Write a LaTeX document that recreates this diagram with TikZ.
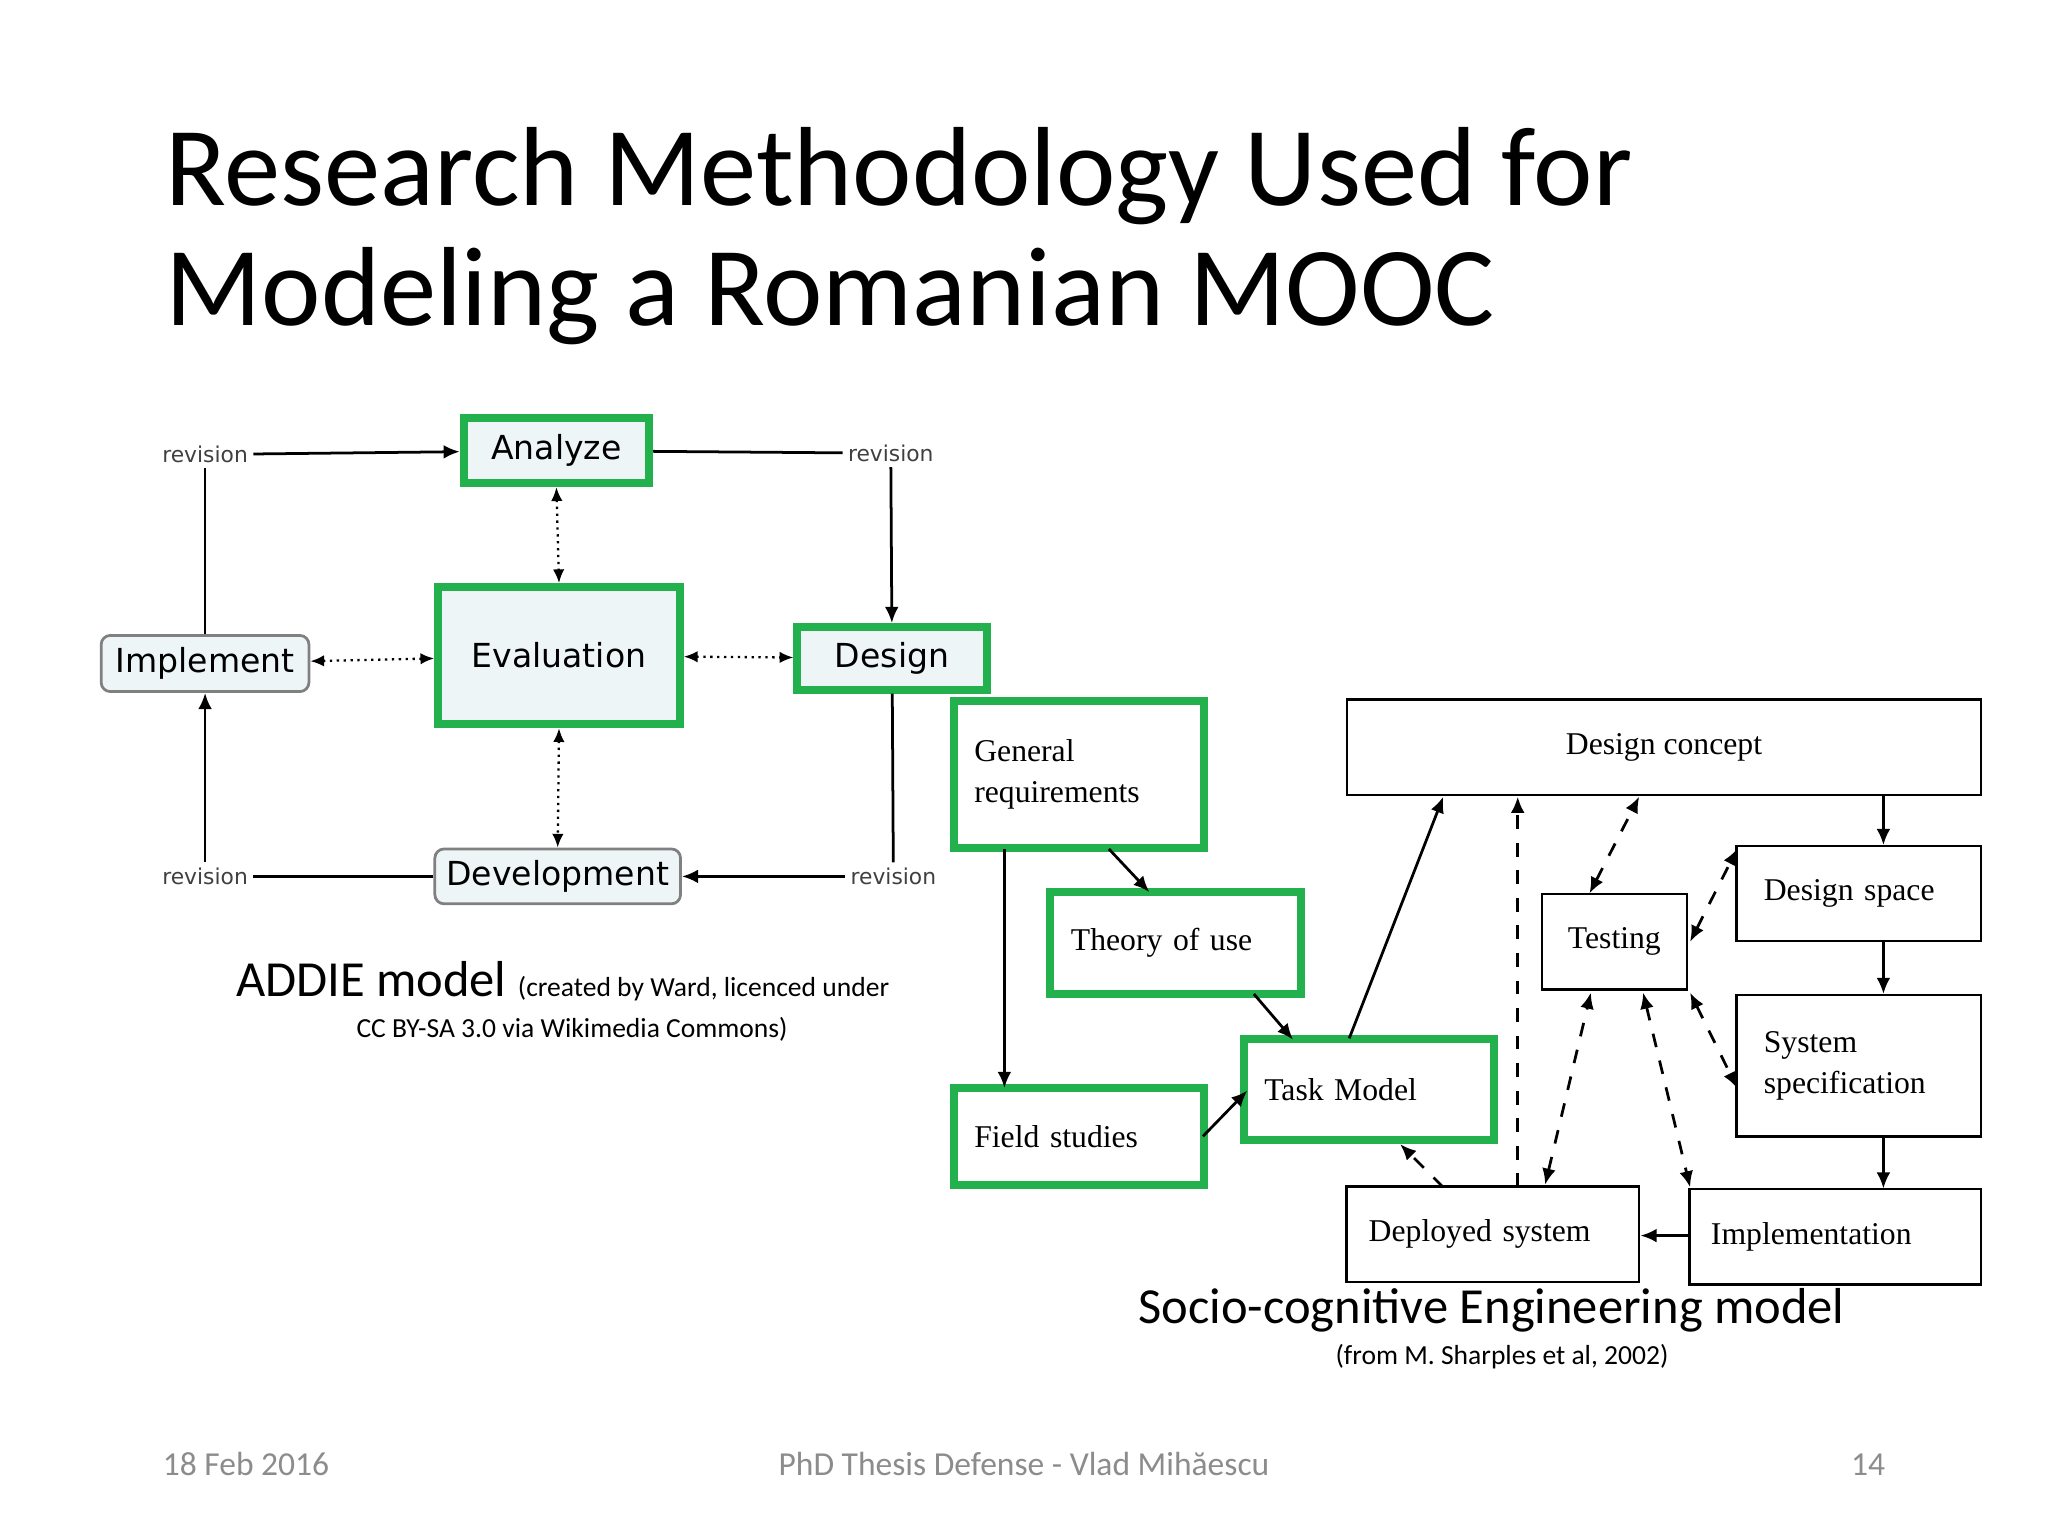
\documentclass[tikz,border=0pt]{standalone}
\usepackage{fontspec}
\setmainfont{Carlito}
\newfontfamily\serifd{Liberation Serif}
\newfontfamily\sansd{DejaVu Sans}
\usetikzlibrary{arrows.meta}
\definecolor{gr}{HTML}{22B14C}
\definecolor{addfill}{HTML}{EEF5F6}
\definecolor{foot}{HTML}{8C8C8C}
\tikzset{
 gbox/.style={draw=gr,line width=1.7pt,fill=addfill,font=\sansd\fontsize{7.2}{8}\selectfont,inner sep=0pt},
 rbox/.style={draw=gray,rounded corners=2pt,line width=0.6pt,fill=addfill,font=\sansd\fontsize{7.2}{8}\selectfont,inner sep=0pt},
 rev/.style={font=\sansd\fontsize{4.75}{5}\selectfont,text=black!75,inner sep=1pt},
 sbox/.style={draw=black,line width=0.5pt,font=\serifd\fontsize{6.9}{8.8}\selectfont,align=left,inner xsep=4.5pt,inner ysep=0pt},
 sgbox/.style={sbox,draw=gr,line width=1.7pt},
 ln/.style={line width=0.6pt},
 ar/.style={line width=0.6pt,-{Latex[length=3.5pt,width=3pt]}},
 dd/.style={line width=0.5pt,densely dotted,{Latex[length=3pt,width=2.5pt]}-{Latex[length=3pt,width=2.5pt]}},
 da/.style={line width=0.6pt,dashed,-{Latex[length=3.5pt,width=3pt]}},
 dda/.style={line width=0.6pt,dashed,{Latex[length=3.5pt,width=3pt]}-{Latex[length=3.5pt,width=3pt]}},
}
\begin{document}
\begin{tikzpicture}[x=0.01cm,y=-0.01cm]
\useasboundingbox (0,0) rectangle (1568,1176);
% title
\node[anchor=base west,inner sep=0,font=\fontsize{24.5}{25}\selectfont] (t1) at (126,157) {Research Methodology Used for};
\node[anchor=base west,inner sep=0,font=\fontsize{24.5}{25}\selectfont] (t2) at (126,249) {Modeling a Romanian MOOC};
% ADDIE
\node[gbox,minimum width=1.42cm,minimum height=0.5cm] (an) at (426,345) {Analyze};
\node[gbox,minimum width=1.85cm,minimum height=1.05cm] (ev) at (428,502) {Evaluation};
\node[gbox,minimum width=1.45cm,minimum height=0.48cm] (de) at (683,504) {Design};
\node[rbox,minimum width=1.59cm,minimum height=0.43cm] (im) at (157,508) {Implement};
\node[rbox,minimum width=1.88cm,minimum height=0.42cm] (dv) at (427,671) {Development};
\node[rev] (r1) at (157,348) {revision};
\node[rev] (r2) at (682,347) {revision};
\node[rev] (r3) at (157,671) {revision};
\node[rev] (r4) at (684,671) {revision};
\draw[ar] (r1) -- (an);
\draw[ln] (an) -- (r2);
\draw[ar] (r2) -- (de);
\draw[ln] (de) -- (r4);
\draw[ar] (r4) -- (dv);
\draw[ln] (dv) -- (r3);
\draw[ar] (r3) -- (im);
\draw[ln] (im) -- (r1);
\draw[dd] (an.south) -- (ev.north);
\draw[dd] (im) -- (ev);
\draw[dd] (ev) -- (de);
\draw[dd] (ev.south) -- (dv.north);
\node[anchor=base west,inner sep=0] (ac) at (180,763) {\fontsize{11}{12}\selectfont ADDIE model \fontsize{6}{7}\selectfont(created by Ward, licenced under};
\node[anchor=base,inner sep=0,font=\fontsize{6}{7}\selectfont] (ac2) at (438,794) {CC BY-SA 3.0 via Wikimedia Commons)};
% SCE
\node[sgbox,minimum width=1.85cm,minimum height=1.13cm,text width=1.6cm] (gen) at (826,593) {General\\requirements\\[0.4em]};
\node[sgbox,minimum width=1.89cm,minimum height=0.78cm,text width=1.6cm] (th) at (900,722) {Theory of use};
\node[sgbox,minimum width=1.85cm,minimum height=0.74cm,text width=1.6cm] (fs) at (826,870) {Field studies};
\node[sgbox,minimum width=1.86cm,minimum height=0.77cm,text width=1.6cm] (tm) at (1048,834) {Task Model};
\node[sbox,minimum width=4.85cm,minimum height=0.73cm,align=center] (dc) at (1274,572) {Design concept};
\node[sbox,minimum width=1.11cm,minimum height=0.73cm,align=center] (te) at (1236,721) {Testing};
\node[sbox,minimum width=1.87cm,minimum height=0.73cm,text width=1.45cm] (ds) at (1423,684) {Design space};
\node[sbox,minimum width=1.87cm,minimum height=1.08cm,text width=1.45cm] (ss) at (1423,816) {System\\specification};
\node[sbox,minimum width=2.24cm,minimum height=0.73cm,text width=1.9cm] (dp) at (1143,945) {Deployed system};
\node[sbox,minimum width=2.23cm,minimum height=0.73cm,text width=1.9cm] (ip) at (1405,947) {Implementation};
\draw[ar] (849,650) -- (880,683);
\draw[ar] (960,761) -- (990,796);
\draw[ar] (769,650) -- (769,833);
\draw[ar] (921,870) -- (955,835);
\draw[ar] (1033,795) -- (1105,610);
\draw[da] (1162,909) -- (1162,610);
\draw[dda] (1217,684) -- (1255,610);
\draw[ar] (1442,609) -- (1442,647);
\draw[ar] (1442,721) -- (1442,761);
\draw[ar] (1442,870) -- (1442,910);
\draw[ar] (1294,946) -- (1256,946);
\draw[dda] (1294,721) -- (1330,650);
\draw[dda] (1294,760) -- (1330,833);
\draw[dda] (1183,907) -- (1218,760);
\draw[dda] (1258,760) -- (1294,909);
\draw[da] (1105,909) -- (1072,876);
\node[anchor=base,inner sep=0,font=\fontsize{11}{12}\selectfont] (sc) at (1142,1013) {Socio-cognitive Engineering model};
\node[anchor=base,inner sep=0,font=\fontsize{6}{7}\selectfont] (sc2) at (1150,1045) {(from M. Sharples et al, 2002)};
% footer
\node[anchor=base west,inner sep=0,text=foot,font=\fontsize{7.3}{8}\selectfont] (f1) at (124,1130) {18 Feb 2016};
\node[anchor=base,inner sep=0,text=foot,font=\fontsize{7.3}{8}\selectfont] (f2) at (784,1130) {PhD Thesis Defense - Vlad Mihăescu};
\node[anchor=base east,inner sep=0,text=foot,font=\fontsize{7.3}{8}\selectfont] (f3) at (1444,1130) {14};
\end{tikzpicture}
\end{document}
